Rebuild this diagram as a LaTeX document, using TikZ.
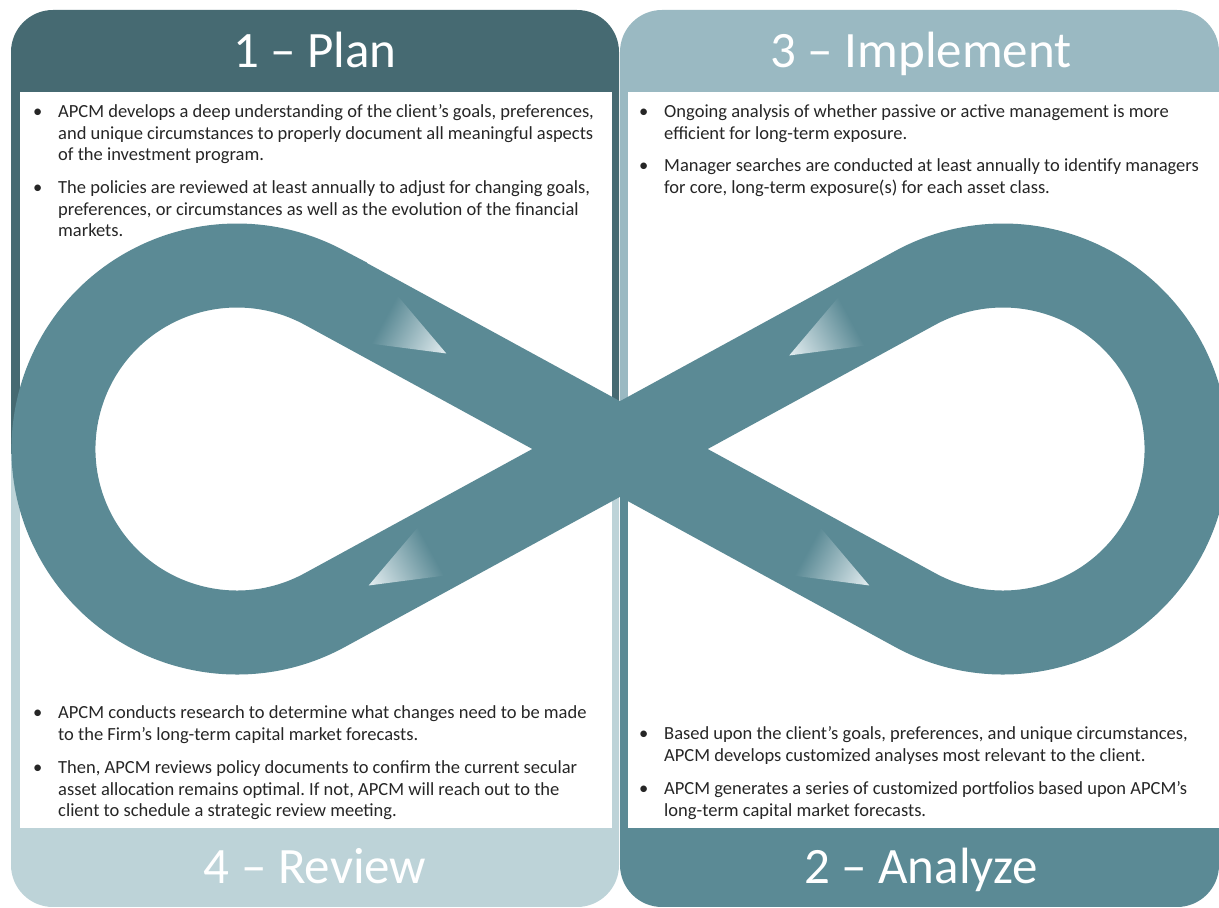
\documentclass[tikz,border=0pt]{standalone}
\usepackage{fontspec}
\setmainfont{Carlito}
\frenchspacing
\definecolor{plancol}{HTML}{466A72}
\definecolor{implcol}{HTML}{9AB9C2}
\definecolor{revcol}{HTML}{BDD3D8}
\definecolor{anacol}{HTML}{5B8A95}
\definecolor{bandcol}{HTML}{5B8A95}
\definecolor{tiplight}{HTML}{E4EEF1}
\definecolor{bodytext}{HTML}{262626}
% one bullet item: bullet, then a top-aligned block of pre-broken lines
\newcommand{\bpt}[1]{\makebox[25pt][l]{\textbullet}\parbox[t]{600pt}{\raggedright #1}}
\begin{document}
\begin{tikzpicture}[x=1pt,y=1pt,
  hdr/.style={text=white, font=\fontsize{51}{60}\selectfont, anchor=base, inner sep=0pt},
  body/.style={text=bodytext, font=\fontsize{18.5}{21.6}\selectfont, anchor=base west, inner sep=0pt},
  arrowtip/.style={left color=bandcol, right color=tiplight}]
\useasboundingbox (0,0) rectangle (1219,908);
\clip (0,0) rectangle (1219,908);

% four quadrant panels
\fill[plancol] (11,454) -- (11,856) arc[start angle=180, end angle=90, radius=42] -- (577,898)
  arc[start angle=90, end angle=0, radius=42] -- (619,454) -- cycle;
\fill[implcol] (620,454) -- (620,856) arc[start angle=180, end angle=90, radius=42] -- (1177,898)
  arc[start angle=90, end angle=0, radius=42] -- (1219,454) -- cycle;
\fill[revcol] (11,454) -- (11,43) arc[start angle=180, end angle=270, radius=42] -- (577,1)
  arc[start angle=270, end angle=360, radius=42] -- (619,454) -- cycle;
\fill[anacol] (620,454) -- (620,43) arc[start angle=180, end angle=270, radius=42] -- (1177,1)
  arc[start angle=270, end angle=360, radius=42] -- (1219,454) -- cycle;

% white text areas
\fill[white] (20,80) rectangle (612,816);
\fill[white] (628,80) rectangle (1219,816);

% infinity band: two circles joined by tangents crossing in the middle
\coordinate (mid) at (620,459);
\coordinate (tl) at (324.8,620.1);
\coordinate (bl) at (324.8,297.9);
\coordinate (br) at (915.2,297.9);
\draw[bandcol, line width=84pt] (tl) -- (mid) -- (br)
  arc[start angle=-118.6, end angle=118.6, radius=183.5] -- (mid) -- (bl)
  arc[start angle=-61.4, end angle=-298.6, radius=183.5] -- cycle;

% direction markers on the band
\begin{scope}[transform canvas={shift={(384,588.5)}, rotate=-28.6}]
  \shade[arrowtip] (0,-27.5) -- (0,27.5) -- (71,0) -- cycle;
\end{scope}
\begin{scope}[transform canvas={shift={(431,356.5)}, rotate=208.6}]
  \shade[arrowtip] (0,-27.5) -- (0,27.5) -- (71,0) -- cycle;
\end{scope}
\begin{scope}[transform canvas={shift={(851.5,586.5)}, rotate=208.6}]
  \shade[arrowtip] (0,-27.5) -- (0,27.5) -- (71,0) -- cycle;
\end{scope}
\begin{scope}[transform canvas={shift={(807,356.5)}, rotate=-28.6}]
  \shade[arrowtip] (0,-27.5) -- (0,27.5) -- (71,0) -- cycle;
\end{scope}

% headings
\node[hdr] (plan) at (315,840) {1 – Plan};
\node[hdr] (impl) at (921,840) {3 – Implement};
\node[hdr] (rev) at (315,24) {4 – Review};
\node[hdr] (ana) at (921,24) {2 – Analyze};

% bullet text
\node[body] (plana) at (33,790.5) {\bpt{APCM develops a deep understanding of the client’s goals, preferences,\\
  and unique circumstances to properly document all meaningful aspects\\
  of the investment program.}};
\node[body] (planb) at (33,714.5) {\bpt{The policies are reviewed at least annually to adjust for changing goals,\\
  preferences, or circumstances as well as the evolution of the financial\\
  markets.}};
\node[body] (impla) at (639,790.5) {\bpt{Ongoing analysis of whether passive or active management is more\\
  efficient for long-term exposure.}};
\node[body] (implb) at (639,736.5) {\bpt{Manager searches are conducted at least annually to identify managers\\
  for core, long-term exposure(s) for each asset class.}};
\node[body] (reva) at (33,189.5) {\bpt{APCM conducts research to determine what changes need to be made\\
  to the Firm’s long-term capital market forecasts.}};
\node[body] (revb) at (33,134.5) {\bpt{Then, APCM reviews policy documents to confirm the current secular\\
  asset allocation remains optimal. If not, APCM will reach out to the\\
  client to schedule a strategic review meeting.}};
\node[body] (anaa) at (639,168.5) {\bpt{Based upon the client’s goals, preferences, and unique circumstances,\\
  APCM develops customized analyses most relevant to the client.}};
\node[body] (anab) at (639,113.5) {\bpt{APCM generates a series of customized portfolios based upon APCM’s\\
  long-term capital market forecasts.}};
\end{tikzpicture}
\end{document}
